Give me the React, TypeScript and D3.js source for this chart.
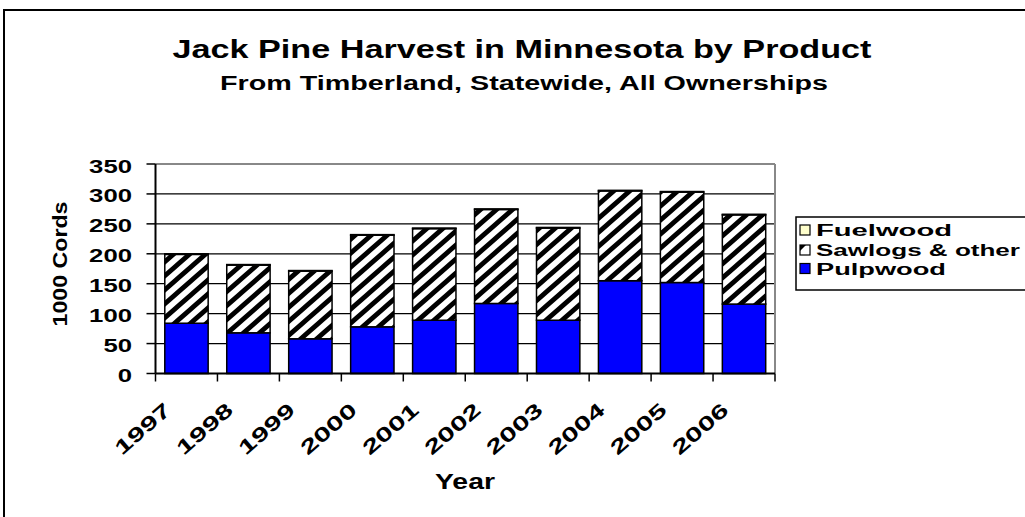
import React from "react";
import * as d3 from "d3";

const years = ["1997", "1998", "1999", "2000", "2001", "2002", "2003", "2004", "2005", "2006"];
const pulpwood = [84, 68, 58, 78, 89, 117, 89, 155, 152, 116];
const sawlogs = [115, 113, 113, 153, 153, 157, 154, 150, 151, 149];
const fuelwood = [1, 1, 1, 1, 1, 1, 1, 1, 1, 1];
const yTicks = [0, 50, 100, 150, 200, 250, 300, 350];
const legendItems = ["Fuelwood", "Sawlogs & other", "Pulpwood"];
const title = "Jack Pine Harvest in Minnesota by Product";
const subtitle = "From Timberland, Statewide, All Ownerships";

const W = 1025;
const H = 517;
const FONT = "Liberation Sans, Arial, sans-serif";

export default function App() {
  const left = 155.5, right = 775, top = 164, bottom = 373.5;
  const x = d3.scaleBand<string>().domain(years).range([left, right]).paddingInner(0.3).paddingOuter(0.15);
  const y = d3.scaleLinear().domain([0, 350]).range([bottom, top]);

  const rows = years.map((yr, i) => ({ year: yr, pulp: pulpwood[i], saw: sawlogs[i], fuel: fuelwood[i] }));
  const stack = d3.stack<any>().keys(["pulp", "saw", "fuel"]);
  const series = stack(rows);
  const fills: Record<string, string> = { pulp: "#0000FF", saw: "url(#hatch)", fuel: "#FFFFCC" };

  const boundaries = d3.range(years.length + 1).map((i) => left + i * x.step());

  return (
    <svg width={W} height={H} style={{ position: "absolute", left: 0, top: 0, background: "#fff" }} fontFamily={FONT}>
      <defs>
        <pattern id="hatch" patternUnits="userSpaceOnUse" width={16} height={14}>
          <rect width={16} height={14} fill="#fff" />
          <path d="M0,14 L16,0 M-4,3.5 L4,-3.5 M12,17.5 L20,10.5" stroke="#000" strokeWidth={4.8} />
        </pattern>
      </defs>
      <rect x={0} y={0} width={W} height={H} fill="#fff" />
      <rect x={4} y={10} width={W + 20} height={H + 20} fill="none" stroke="#000" strokeWidth={2} />

      <text x={522} y={58} textAnchor="middle" fontSize={25} fontWeight="bold" textLength={699} lengthAdjust="spacingAndGlyphs">{title}</text>
      <text x={524} y={90} textAnchor="middle" fontSize={20} fontWeight="bold" textLength={608} lengthAdjust="spacingAndGlyphs">{subtitle}</text>

      {/* gridlines */}
      {yTicks.filter((t) => t > 0 && t < 350).map((t) => (
        <line key={t} x1={left} x2={right} y1={y(t)} y2={y(t)} stroke="#000" strokeWidth={1.2} />
      ))}
      <line x1={left} x2={right} y1={y(350)} y2={y(350)} stroke="#888" strokeWidth={2} />
      <line x1={right} x2={right} y1={y(350)} y2={bottom} stroke="#888" strokeWidth={2} />

      {/* bars */}
      {series.map((s) => (
        <g key={s.key}>
          {s.map((d, i) => (
            <rect key={i} x={x(years[i])} y={y(d[1])} width={x.bandwidth()} height={y(d[0]) - y(d[1])}
              fill={fills[s.key]} stroke="#000" strokeWidth={1.5} />
          ))}
        </g>
      ))}

      {/* axes */}
      <line x1={left} x2={left} y1={y(350)} y2={bottom} stroke="#000" strokeWidth={2} />
      <line x1={left} x2={right} y1={bottom} y2={bottom} stroke="#000" strokeWidth={2} />
      {yTicks.map((t) => (
        <g key={t}>
          <line x1={left - 9} x2={left} y1={y(t)} y2={y(t)} stroke="#000" strokeWidth={1.5} />
          <text x={132} y={y(t) + 8.5} textAnchor="end" fontSize={18} fontWeight="bold"
            textLength={String(t).length * 14.3} lengthAdjust="spacingAndGlyphs">{t}</text>
        </g>
      ))}
      {boundaries.map((bx, i) => (
        <line key={i} x1={bx} x2={bx} y1={bottom} y2={bottom + 8} stroke="#000" strokeWidth={1.5} />
      ))}
      {years.map((yr) => {
        const cx = (x(yr) as number) + x.bandwidth() / 2;
        const ex = cx - 14, ey = 412;
        return (
          <text key={yr} x={ex} y={ey} textAnchor="end" fontSize={20} fontWeight="bold"
            transform={`rotate(-41 ${ex} ${ey})`} textLength={67} lengthAdjust="spacingAndGlyphs">{yr}</text>
        );
      })}

      <text x={465} y={489} textAnchor="middle" fontSize={22} fontWeight="bold" textLength={60} lengthAdjust="spacingAndGlyphs">Year</text>
      <text x={67} y={264} textAnchor="middle" fontSize={20} fontWeight="bold" transform="rotate(-90 67 264)"
        textLength={125} lengthAdjust="spacingAndGlyphs">1000 Cords</text>

      {/* legend */}
      <rect x={796} y={217} width={260} height={73} fill="#fff" stroke="#000" strokeWidth={1.5} />
      {legendItems.map((name, i) => {
        const cy = [230, 250, 268.5][i];
        const lens = [136, 204, 130];
        return (
          <g key={name}>
            {name === "Sawlogs & other" ? (
              <g>
                <rect x={800} y={cy - 5} width={10} height={10} fill="#fff" stroke="#000" strokeWidth={1.2} />
                <path d={`M800,${cy - 5} L806,${cy - 5} L800,${cy + 1} Z`} fill="#000" />
              </g>
            ) : (
              <rect x={800} y={cy - 5} width={10} height={10} fill={name === "Fuelwood" ? "#FFFFCC" : "#0000FF"} stroke="#000" strokeWidth={1.2} />
            )}
            <text x={816} y={cy + 6} fontSize={16} fontWeight="bold" textLength={lens[i]} lengthAdjust="spacingAndGlyphs">{name}</text>
          </g>
        );
      })}
    </svg>
  );
}
